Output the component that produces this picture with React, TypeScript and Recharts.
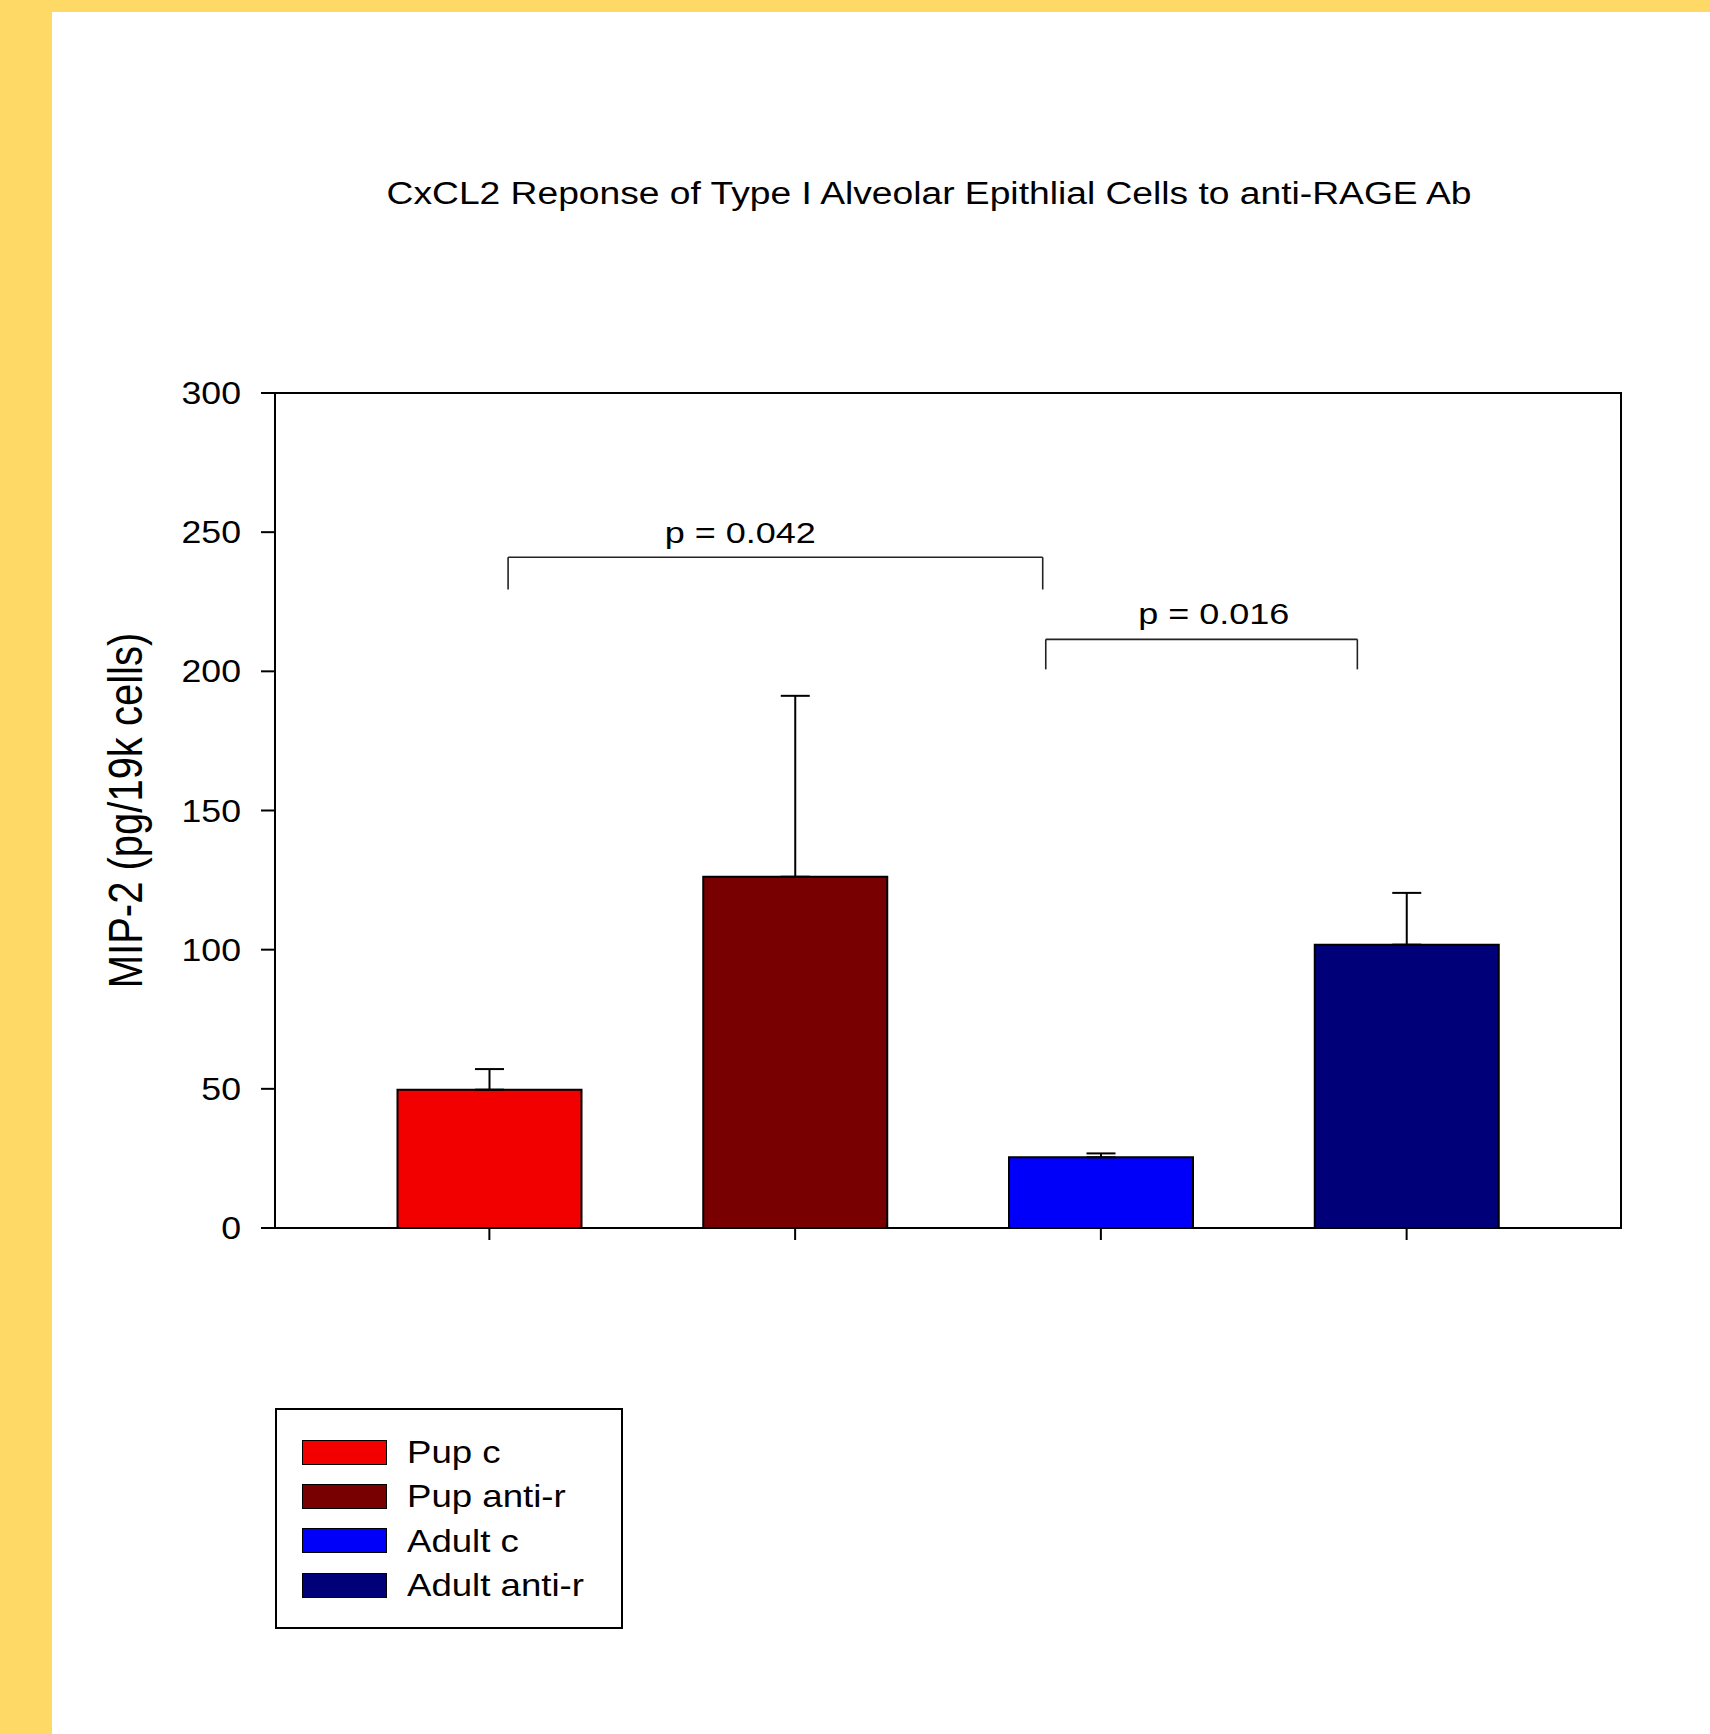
import React from 'react';
import {
  ComposedChart,
  Bar,
  Cell,
  XAxis,
  YAxis,
  ErrorBar,
  ReferenceLine,
  ReferenceDot,
  ReferenceArea,
  Legend,
  Label,
} from 'recharts';

// groups and their means / upper error (pg per 19k cells)
const categories = ['Pup c', 'Pup anti-r', 'Adult c', 'Adult anti-r'];
const values = [49.7, 126.2, 25.4, 101.8];
const errorsUp = [7.4, 65, 1.4, 18.6];
const colors = ['#f20000', '#780000', '#0000fa', '#000078'];
const yTicks = [0, 50, 100, 150, 200, 250, 300];

// significance brackets, in data units (x on a 1..4 group scale)
const brackets = [
  { x1: 1.06, x2: 2.81, top: 241, bottom: 229.4 },
  { x1: 2.82, x2: 3.84, top: 211.5, bottom: 200.7 },
];
const pLabels = [
  { text: 'p = 0.042', x: 1.82, y: 246.2 },
  { text: 'p = 0.016', x: 3.37, y: 216.9 },
];

const FONT = '"Liberation Sans", Arial, sans-serif';
const SX = 1.2; // the source picture is stretched sideways a bit
const YELLOW = '#ffd966';
const X_DOMAIN: [number, number] = [0.297, 4.703];

const data = categories.map((name, i) => ({
  name,
  pos: i + 1,
  value: values[i],
  err: [0, errorsUp[i]],
}));

const YTick = ({ x, y, payload }: any) => (
  <text
    transform={`translate(${x},${y}) scale(1.15,1)`}
    textAnchor="end"
    dy="0.355em"
    fontSize={31}
    fontFamily={FONT}
    fill="#000"
  >
    {payload.value}
  </text>
);

const NoLabel = () => <g />;

const LegendBox = () => (
  <div
    style={{
      border: '2px solid #000',
      background: '#fff',
      boxSizing: 'border-box',
      width: 348,
      height: 221,
      paddingTop: 20,
      fontFamily: FONT,
      color: '#000',
    }}
  >
    {categories.map((c, i) => (
      <div key={c} style={{ height: 44.33, display: 'flex', alignItems: 'center' }}>
        <span
          style={{
            marginLeft: 25,
            width: 85,
            height: 25,
            boxSizing: 'border-box',
            border: '1.5px solid #000',
            background: colors[i],
          }}
        />
        <span
          style={{
            marginLeft: 20,
            fontSize: 30.5,
            lineHeight: 1,
            display: 'inline-block',
            transform: `scaleX(${SX})`,
            transformOrigin: 'left center',
            whiteSpace: 'nowrap',
          }}
        >
          {c}
        </span>
      </div>
    ))}
  </div>
);

export default function App() {
  return (
    <div
      style={{
        position: 'absolute',
        left: 0,
        top: 0,
        width: 1710,
        height: 1734,
        background: YELLOW,
        overflow: 'hidden',
        fontFamily: FONT,
      }}
    >
      <div style={{ position: 'absolute', left: 52, top: 12, right: 0, bottom: 0, background: '#fff' }} />
      <div
        style={{
          position: 'absolute',
          left: 929,
          top: 178,
          fontSize: 31,
          lineHeight: '31px',
          whiteSpace: 'nowrap',
          color: '#000',
          transform: `translateX(-50%) scaleX(${SX})`,
        }}
      >
        CxCL2 Reponse of Type I Alveolar Epithlial Cells to anti-RAGE Ab
      </div>
      <div style={{ position: 'absolute', left: 0, top: 0 }}>
        <ComposedChart
          width={1710}
          height={1734}
          data={data}
          margin={{ top: 393, right: 89, bottom: 466, left: 0 }}
        >
          <XAxis
            dataKey="name"
            type="category"
            height={40}
            padding={{ left: 61.5, right: 61.5 }}
            axisLine={{ stroke: '#000', strokeWidth: 2 }}
            tickLine={{ stroke: '#000', strokeWidth: 2 }}
            tickSize={12}
            tick={<NoLabel />}
            interval={0}
          />
          <XAxis
            xAxisId="num"
            dataKey="pos"
            type="number"
            domain={X_DOMAIN}
            allowDataOverflow
            hide
          />
          <YAxis
            domain={[0, 300]}
            ticks={yTicks}
            width={275}
            axisLine={{ stroke: '#000', strokeWidth: 2 }}
            tickLine={{ stroke: '#000', strokeWidth: 2 }}
            tickSize={14}
            tickMargin={20}
            tick={<YTick />}
            interval={0}
          >
            <Label
              content={({ viewBox }: any) => {
                const cy = viewBox.y + viewBox.height / 2;
                return (
                  <text
                    transform={`translate(125,${cy}) scale(${SX},1) rotate(-90)`}
                    textAnchor="middle"
                    dy="0.36em"
                    fontSize={40}
                    fontFamily={FONT}
                    fill="#000"
                  >
                    MIP-2 (pg/19k cells)
                  </text>
                );
              }}
            />
          </YAxis>
          {/* plot frame */}
          <ReferenceArea
            xAxisId="num"
            x1={X_DOMAIN[0]}
            x2={X_DOMAIN[1]}
            y1={0}
            y2={300}
            fill="none"
            fillOpacity={0}
            stroke="#000"
            strokeWidth={2}
            strokeOpacity={1}
          />
          <Bar dataKey="value" barSize={184} stroke="#000" strokeWidth={2} isAnimationActive={false}>
            {data.map((d, i) => (
              <Cell key={d.name} fill={colors[i]} />
            ))}
            <ErrorBar dataKey="err" width={14.5} strokeWidth={2} stroke="#000" direction="y" />
          </Bar>
          {brackets.map((b, i) => (
            <React.Fragment key={'br' + i}>
              <ReferenceLine
                xAxisId="num"
                segment={[{ x: b.x1, y: b.top }, { x: b.x2, y: b.top }]}
                stroke="#222"
                strokeWidth={1.6}
              />
              <ReferenceLine
                xAxisId="num"
                segment={[{ x: b.x1, y: b.bottom }, { x: b.x1, y: b.top }]}
                stroke="#222"
                strokeWidth={1.6}
              />
              <ReferenceLine
                xAxisId="num"
                segment={[{ x: b.x2, y: b.bottom }, { x: b.x2, y: b.top }]}
                stroke="#222"
                strokeWidth={1.6}
              />
            </React.Fragment>
          ))}
          {pLabels.map((p) => (
            <ReferenceDot
              key={p.text}
              xAxisId="num"
              x={p.x}
              y={p.y}
              r={0}
              shape={(props: any) => (
                <text
                  transform={`translate(${props.cx},${props.cy}) scale(${SX},1)`}
                  textAnchor="middle"
                  fontSize={30}
                  fontFamily={FONT}
                  fill="#000"
                >
                  {p.text}
                </text>
              )}
            />
          ))}
          <Legend
            layout="vertical"
            align="center"
            verticalAlign="middle"
            content={() => <LegendBox />}
            wrapperStyle={{ left: 275, top: 1408, width: 348, height: 221 }}
          />
        </ComposedChart>
      </div>
    </div>
  );
}
